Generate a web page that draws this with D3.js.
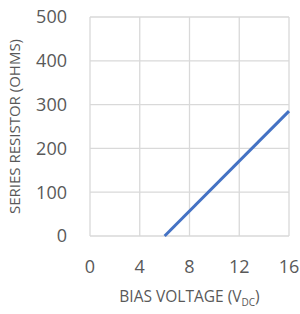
<!DOCTYPE html>
<html>
<head>
<meta charset="utf-8">
<script src="https://cdn.jsdelivr.net/npm/d3@7"></script>
<style>
  body { margin: 0; background: #fff; }
  svg text { font-family: "Open Sans", sans-serif; fill: #595959; }
</style>
</head>
<body>
<div id="chart"></div>
<script>
// Series resistor vs bias voltage
const biasVoltage = [6, 16];
const seriesResistor = [0, 285];
const xTicks = [0, 4, 8, 12, 16];
const yTicks = [0, 100, 200, 300, 400, 500];

const width = 300;
const height = 314;
const margin = { top: 17, right: 11, bottom: 78, left: 90 };

const svg = d3.select('#chart')
  .append('svg')
  .attr('width', width)
  .attr('height', height);

const x = d3.scaleLinear()
  .domain([0, 16])
  .range([margin.left, width - margin.right]);

const y = d3.scaleLinear()
  .domain([0, 500])
  .range([height - margin.bottom, margin.top]);

// grid lines
svg.append('g')
  .selectAll('line')
  .data(xTicks)
  .enter()
  .append('line')
  .attr('x1', d => x(d))
  .attr('x2', d => x(d))
  .attr('y1', y(0))
  .attr('y2', y(500))
  .attr('stroke', '#d9d9d9')
  .attr('stroke-width', 1.3);

svg.append('g')
  .selectAll('line')
  .data(yTicks)
  .enter()
  .append('line')
  .attr('x1', x(0))
  .attr('x2', x(16))
  .attr('y1', d => y(d))
  .attr('y2', d => y(d))
  .attr('stroke', '#d9d9d9')
  .attr('stroke-width', 1.3);

// tick labels
svg.append('g')
  .selectAll('text')
  .data(yTicks)
  .enter()
  .append('text')
  .attr('x', x(0) - 23)
  .attr('y', d => y(d))
  .attr('dy', '0.35em')
  .attr('text-anchor', 'end')
  .style('font-size', '18px')
  .text(d => d);

svg.append('g')
  .selectAll('text')
  .data(xTicks)
  .enter()
  .append('text')
  .attr('x', d => x(d))
  .attr('y', y(0) + 37)
  .attr('text-anchor', 'middle')
  .style('font-size', '18px')
  .text(d => d);

// the line
const line = d3.line()
  .x((d, i) => x(biasVoltage[i]))
  .y(d => y(d));

svg.append('path')
  .datum(seriesResistor)
  .attr('fill', 'none')
  .attr('stroke', '#4472c4')
  .attr('stroke-width', 3)
  .attr('d', line);

// axis titles
const xTitle = svg.append('text')
  .attr('x', (x(0) + x(16)) / 2)
  .attr('y', 302)
  .attr('text-anchor', 'middle')
  .style('font-size', '15.5px');
xTitle.append('tspan').text('BIAS VOLTAGE (V');
xTitle.append('tspan').attr('dy', 4).style('font-size', '10px').text('DC');
xTitle.append('tspan').attr('dy', -4).text(')');

svg.append('text')
  .attr('transform', `translate(20,${(y(0) + y(500)) / 2}) rotate(-90)`)
  .attr('text-anchor', 'middle')
  .style('font-size', '15px')
  .text('SERIES RESISTOR (OHMS)');
</script>
</body>
</html>
